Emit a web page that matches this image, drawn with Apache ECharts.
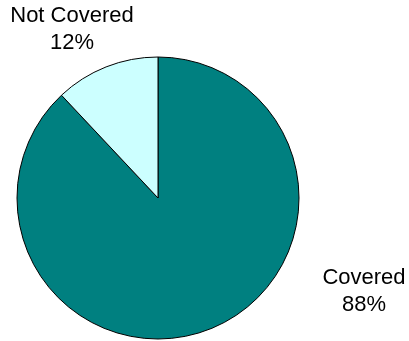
<!DOCTYPE html>
<html>
<head>
<meta charset="utf-8">
<script src="https://cdn.jsdelivr.net/npm/echarts@6/dist/echarts.min.js"></script>
<style>html,body{margin:0;padding:0;background:#fff;}#c{width:409px;height:341px;}</style>
</head>
<body>
<div id="c"></div>
<script>
var categories = ['Covered', 'Not Covered'];
var values = [88, 12];
var colors = ['#008080', '#CCFFFF'];

var labelPos = [[364, 291], [72, 29]];

var chart = echarts.init(document.getElementById('c'), null, {renderer: 'canvas'});
chart.setOption({
  animation: false,
  series: [{
    type: 'pie',
    center: [158, 198],
    radius: 141,
    startAngle: 90,
    clockwise: true,
    data: categories.map(function (c, i) {
      return {name: c, value: values[i], itemStyle: {color: colors[i]}};
    }),
    itemStyle: {borderColor: '#000', borderWidth: 1},
    label: {
      show: true,
      position: 'outside',
      formatter: function (p) { return p.name + '\n' + p.value + '%'; },
      fontFamily: 'Liberation Sans, Arial, sans-serif',
      fontSize: 22,
      lineHeight: 27,
      color: '#000',
      align: 'center',
      overflow: 'none',
      width: 200
    },
    labelLine: {show: false},
    labelLayout: function (p) {
      var pos = labelPos[p.dataIndex];
      return {x: pos[0], y: pos[1], align: 'center', verticalAlign: 'middle'};
    },
    emphasis: {disabled: true}
  }]
});
</script>
</body>
</html>
